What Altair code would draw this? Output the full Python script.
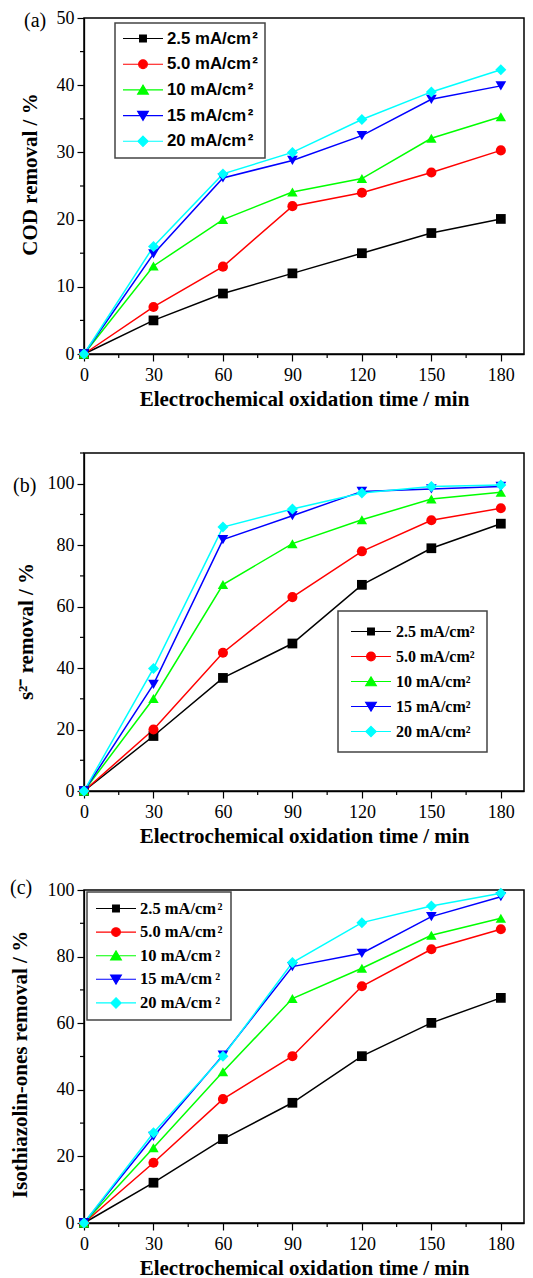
import altair as alt
import pandas as pd

# ---------------- data ----------------
TIME = [0, 30, 60, 90, 120, 150, 180]
SERIES = ["2.5 mA/cm²", "5.0 mA/cm²", "10 mA/cm²", "15 mA/cm²", "20 mA/cm²"]
COLORS = ["#000000", "#ff0000", "#00ff00", "#0000ff", "#00ffff"]
SHAPES = ["square", "circle", "triangle-up", "triangle-down", "diamond"]
SIZES = [95, 121, 190, 190, 169]

COD_25 = [0, 5, 9, 12, 15, 18, 20.1]
COD_50 = [0, 7, 13, 22, 24, 27, 30.3]
COD_10 = [0, 13.1, 20, 24.1, 26.1, 32.1, 35.3]
COD_15 = [0, 14.9, 26.2, 28.8, 32.5, 37.9, 39.9]
COD_20 = [0, 16, 26.8, 30, 34.9, 39, 42.3]

S2_25 = [0, 17.9, 36.8, 48, 67.1, 79, 87]
S2_50 = [0, 20, 45, 63.1, 78, 88.1, 92]
S2_10 = [0, 30.1, 67.2, 80.5, 88.3, 95, 97.2]
S2_15 = [0, 34.7, 81.8, 89.6, 97.5, 98.3, 99.1]
S2_20 = [0, 39.9, 85.9, 91.8, 97, 99.1, 99.6]

ISO_25 = [0, 12.1, 25.2, 36.1, 50.1, 60.1, 67.6]
ISO_50 = [0, 18.1, 37.2, 50.1, 71.1, 82.2, 88.2]
ISO_10 = [0, 22.6, 45.4, 67.4, 76.5, 86.4, 91.5]
ISO_15 = [0, 26, 50.4, 77, 81, 92, 98]
ISO_20 = [0, 27.1, 50.1, 78.2, 90.2, 95.2, 99]

PANEL_LABELS = ["(a)", "(b)", "(c)"]
Y_TITLES = ["COD removal / %", "s²⁻ removal / %", "Isothiazolin-ones removal / %"]
X_TITLE = "Electrochemical oxidation time / min"
X_MAJOR = [0, 30, 60, 90, 120, 150, 180]
X_MINOR = [15, 45, 75, 105, 135, 165]

# legend symbols: marker + line segment (custom paths, scaled by sqrt(size)/2)
LINE = " M-1,0 L1,0"
LEGEND_PATHS = [
    "M-0.17,-0.17 L0.17,-0.17 L0.17,0.17 L-0.17,0.17 Z" + LINE,
    "M-0.22,0 A0.22,0.22 0 1,1 0.22,0 A0.22,0.22 0 1,1 -0.22,0 Z" + LINE,
    "M0,-0.24 L0.27,0.21 L-0.27,0.21 Z" + LINE,
    "M-0.27,-0.21 L0.27,-0.21 L0,0.24 Z" + LINE,
    "M0,-0.26 L0.26,0 L0,0.26 L-0.26,0 Z" + LINE,
]

W = 440
SERIF = "Liberation Serif"
SANS = "Liberation Sans"


def panel(values, label, ytitle, ydomain, ymajor, yminor, height,
          title_x, title_y, label_x, label_y, leg):
    rows = []
    for s, vals in zip(SERIES, values):
        for t, v in zip(TIME, vals):
            rows.append({"series": s, "x": t, "y": v})
    df = pd.DataFrame(rows)

    xsc = alt.Scale(domain=[0, 190], nice=False, zero=False)
    ysc = alt.Scale(domain=ydomain, nice=False, zero=False)
    xax = alt.Axis(values=X_MAJOR, title=X_TITLE, tickSize=7, labelPadding=5,
                   labelFlush=False, labelOverlap=False, titleY=45,
                   titleBaseline="middle", grid=False)
    yax = alt.Axis(values=ymajor, title=ytitle, tickSize=7, labelPadding=3,
                   labelFlush=False, labelOverlap=False, titleX=title_x,
                   titleY=title_y, titleAngle=270, titleBaseline="middle",
                   titleAlign="center", grid=False)
    X = alt.X("x:Q", scale=xsc, axis=xax)
    Y = alt.Y("y:Q", scale=ysc, axis=yax)
    cscale = alt.Scale(domain=SERIES, range=COLORS)

    xminor = alt.Chart(pd.DataFrame({"x": X_MINOR})).mark_rule(
        color="black", strokeWidth=1.2).encode(
        x=X, y=alt.value(height), y2=alt.value(height + 4))
    yminor_l = alt.Chart(pd.DataFrame({"y": yminor})).mark_rule(
        color="black", strokeWidth=1.2).encode(
        y=Y, x=alt.value(0), x2=alt.value(-4))

    lines = alt.Chart(df).mark_line(strokeWidth=1.5).encode(
        x=X, y=Y, color=alt.Color("series:N", scale=cscale, legend=None))
    points = alt.Chart(df).mark_point(filled=True, opacity=1, strokeWidth=0).encode(
        x=X, y=Y,
        color=alt.Color("series:N", scale=cscale, legend=None),
        shape=alt.Shape("series:N", scale=alt.Scale(domain=SERIES, range=SHAPES), legend=None),
        size=alt.Size("series:N", scale=alt.Scale(domain=SERIES, range=SIZES), legend=None),
    )
    legend = alt.Legend(
        title=None, orient="none", legendX=leg["x"], legendY=leg["y"],
        labelFont=leg["font"], labelFontSize=leg["size"], labelFontWeight="bold",
        labelColor="black", labelLimit=300, labelOffset=leg["offset"],
        labelExpr=leg["expr"],
        symbolSize=1600, symbolStrokeWidth=1.1, symbolOpacity=1,
        clipHeight=17,
        padding=leg["pad"], rowPadding=leg["row"], fillColor="white",
        strokeColor="#444444",
    )
    legend_layer = alt.Chart(pd.DataFrame({"series": SERIES})).transform_filter(
        "false").mark_point(filled=True, opacity=1).encode(
        color=alt.Color("series:N", scale=cscale, legend=legend),
        stroke=alt.Stroke("series:N", scale=cscale, legend=legend),
        shape=alt.Shape("series:N", scale=alt.Scale(domain=SERIES, range=LEGEND_PATHS), legend=legend),
    )
    lab = alt.Chart(pd.DataFrame({"t": [label]})).mark_text(
        align="left", baseline="middle", font=SERIF, fontSize=20, color="black").encode(
        text="t:N", x=alt.value(label_x), y=alt.value(label_y))

    return alt.layer(xminor, yminor_l, lines, points, legend_layer, lab).resolve_scale(
        color="independent", shape="independent", size="independent", stroke="independent"
    ).properties(width=W, height=height)


EXPR_A = "replace(datum.label, '²', '\u200a²')"
EXPR_B = "datum.label"
EXPR_C = ("indexof(datum.label, '.') > 0 ? replace(datum.label, '²', '\u200a²')"
          " : replace(datum.label, '²', '\u2009²')")

pa = panel([COD_25, COD_50, COD_10, COD_15, COD_20], PANEL_LABELS[0], Y_TITLES[0],
           [0, 50], [0, 10, 20, 30, 40, 50], [5, 15, 25, 35, 45], 336,
           -54, 156, -60, 3,
           {"x": 31, "y": 5, "font": SANS, "size": 16.8, "offset": 3, "pad": 7,
            "row": 7.7, "expr": EXPR_A})
pb = panel([S2_25, S2_50, S2_10, S2_15, S2_20], PANEL_LABELS[1], Y_TITLES[1],
           [0, 110], [0, 20, 40, 60, 80, 100], [10, 30, 50, 70, 90, 110], 338,
           -58, 178, -71, 33,
           {"x": 254, "y": 158, "font": SERIF, "size": 16, "offset": 4, "pad": 12,
            "row": 8, "expr": EXPR_B})
pc = panel([ISO_25, ISO_50, ISO_10, ISO_15, ISO_20], PANEL_LABELS[2], Y_TITLES[2],
           [0, 100], [0, 20, 40, 60, 80, 100], [10, 30, 50, 70, 90], 333,
           -64, 174, -74, -2,
           {"x": 3, "y": 2, "font": SERIF, "size": 16.5, "offset": 3, "pad": 8,
            "row": 6.6, "expr": EXPR_C})

chart = alt.vconcat(pa, pb, pc, spacing=99, bounds="flush").properties(
    padding=0, background="white"
).configure_view(
    stroke="black", strokeWidth=1.5
).configure_axis(
    domainColor="black", domainWidth=1.3, tickColor="black", tickWidth=1.2,
    labelFont=SERIF, labelFontSize=18, labelColor="black",
    titleFont=SERIF, titleFontSize=21, titleFontWeight="bold", titleColor="black",
).configure_legend(
    strokeWidth=1.5
)

chart.save("out.html", embed_options={"renderer": "svg", "actions": False})
